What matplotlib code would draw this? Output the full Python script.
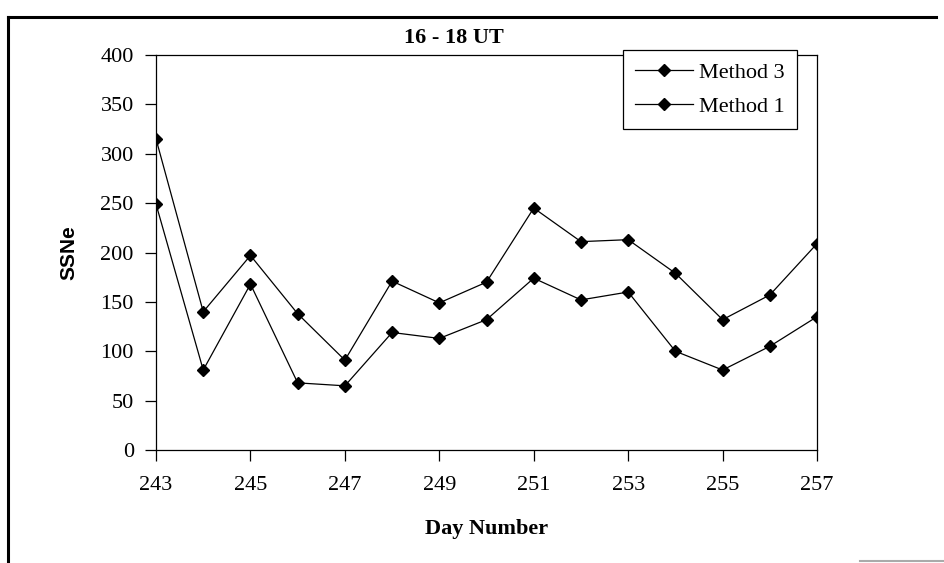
import matplotlib.pyplot as plt
from matplotlib.lines import Line2D

# dias y valores de SSNe
dias = [243, 244, 245, 246, 247, 248, 249, 250, 251, 252, 253, 254, 255, 256, 257]
metodo3 = [315, 140, 197, 138, 91, 171, 149, 170, 245, 211, 213, 179, 132, 157, 209]
metodo1 = [249, 81, 168, 68, 65, 119, 113, 132, 174, 152, 160, 100, 81, 105, 135]
xticks = [243, 245, 247, 249, 251, 253, 255, 257]
yticks = [0, 50, 100, 150, 200, 250, 300, 350, 400]

plt.rcParams['font.family'] = 'Liberation Serif'

fig = plt.figure(figsize=(9.45, 5.63), dpi=100)
ax = fig.add_axes([0.1651, 0.2007, 0.6995, 0.7016])

ax.plot(dias, metodo3, color="black", lw=0.9, marker="D", ms=6.5, label="Method 3")
ax.plot(dias, metodo1, color="black", lw=0.9, marker="D", ms=6.5, label="Method 1")

ax.set_xlim(243, 257)
ax.set_ylim(0, 400)
ax.set_xticks(xticks)
ax.set_yticks(yticks)
ax.tick_params(direction="out", length=8, width=0.9, labelsize=16)
ax.tick_params(axis="x", pad=11)
ax.tick_params(axis="y", pad=8)
for s in ax.spines.values():
    s.set_linewidth(0.9)

# titulo un poco a la izquierda del centro del eje
fig.text(454 / 945, 1 - 38 / 563, "16 - 18 UT", fontsize=16, fontweight="bold", ha="center", va="center")
ax.set_xlabel("Day Number", fontsize=16, fontweight="bold", labelpad=17)
ax.set_ylabel("SSNe", fontsize=15, fontweight="bold", family="Liberation Sans", labelpad=16)

leg = ax.legend(loc="upper right", bbox_to_anchor=(0.970, 1.013), frameon=True, fancybox=False,
                edgecolor="black", fontsize=16, handlelength=2.6, borderpad=0.55,
                labelspacing=0.62, handletextpad=0.3, borderaxespad=0)
leg.get_frame().set_linewidth(0.9)
leg.get_frame().set_alpha(1)

# marco exterior
fig.add_artist(Line2D([0.0085, 0.0085], [0.0, 0.970], transform=fig.transFigure, color="black", lw=2.2))
fig.add_artist(Line2D([0.0085, 0.99], [0.970, 0.970], transform=fig.transFigure, color="black", lw=2.2))
fig.add_artist(Line2D([0.91, 1.0], [0.003, 0.003], transform=fig.transFigure, color="#aaaaaa", lw=1.5))

fig.savefig("out.png", dpi=100)
